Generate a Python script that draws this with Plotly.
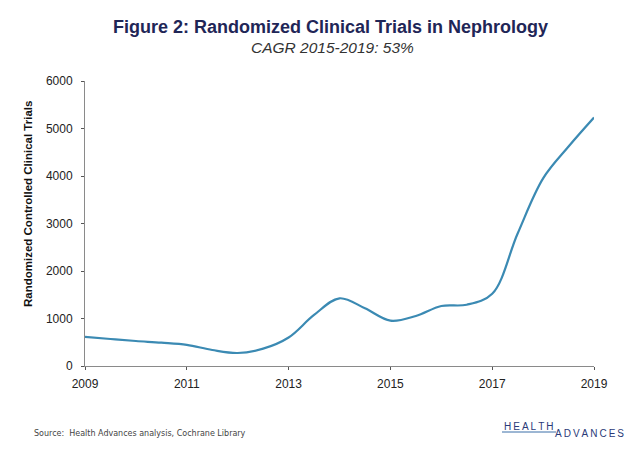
import plotly.graph_objects as go

years = [2009, 2009.5, 2010, 2010.5, 2011, 2011.5, 2012, 2012.5, 2013, 2013.5,
         2014, 2014.5, 2015, 2015.5, 2016, 2016.5, 2017, 2017.5, 2018, 2018.5, 2019]
trials = [615, 568, 526, 491, 445, 337, 274, 365, 600, 1074,
          1425, 1214, 954, 1053, 1263, 1290, 1520, 2790, 3950, 4620, 5230]

x_ticks = [2009, 2011, 2013, 2015, 2017, 2019]
y_ticks = [0, 1000, 2000, 3000, 4000, 5000, 6000]

title_text = "Figure 2: Randomized Clinical Trials in Nephrology"
subtitle_text = "CAGR 2015-2019: 53%"
y_title = "Randomized Controlled Clinical Trials"
source_text = "Source:  Health Advances analysis, Cochrane Library"
logo_top = "H\u2009E\u2009A\u2009L\u2009T\u2009H"
logo_bottom = "A\u2009D\u2009V\u2009A\u2009N\u2009C\u2009E\u2009S"

W, H = 640, 449
ML, MR, MT, MB = 85, 46, 81, 83
PW, PH = W - ML - MR, H - MT - MB


def px(xp):
    return (xp - ML) / PW


def py(yp):
    return (H - MB - yp) / PH


fig = go.Figure()
fig.add_trace(go.Scatter(
    x=years, y=trials, mode="lines",
    line=dict(color="#3b8ab3", width=2.2, shape="spline", smoothing=1.0),
    hoverinfo="x+y", showlegend=False,
))

FAM = "Liberation Sans, Arial, sans-serif"
axis_font = dict(family=FAM, size=12, color="#222222")

common = dict(showgrid=False, zeroline=False, automargin=False)

fig.update_layout(
    width=W, height=H,
    margin=dict(l=ML, r=MR, t=MT, b=MB),
    paper_bgcolor="white", plot_bgcolor="white",
    font=axis_font,
    xaxis=dict(
        range=[2009, 2019], tickvals=x_ticks, ticktext=[str(v) for v in x_ticks],
        showline=True, linecolor="#8a8a8a", linewidth=1,
        ticks="outside", ticklen=3, tickcolor="#555555", tickfont=axis_font,
        ticklabelstandoff=4, **common,
    ),
    yaxis=dict(
        range=[0, 6000], tickvals=y_ticks, ticktext=[str(v) for v in y_ticks],
        showline=True, linecolor="#8a8a8a", linewidth=1,
        ticks="outside", ticklen=3, tickcolor="#555555", tickfont=axis_font,
        ticklabelstandoff=6, **common,
    ),
    xaxis2=dict(
        overlaying="x", matches="x", range=[2009, 2019], tickvals=x_ticks,
        showticklabels=False, showline=False, ticks="inside", ticklen=3,
        tickcolor="#555555", side="bottom", **common,
    ),
    yaxis2=dict(
        overlaying="y", matches="y", range=[0, 6000], tickvals=y_ticks,
        showticklabels=False, showline=False, ticks="inside", ticklen=3,
        tickcolor="#555555", side="left", **common,
    ),
)

fig.add_annotation(
    text="<b>" + title_text + "</b>", xref="paper", yref="paper",
    x=px(330), y=py(27), xanchor="center", yanchor="middle", showarrow=False,
    font=dict(family=FAM, size=18, color="#1f2657"),
)
fig.add_annotation(
    text="<i>" + subtitle_text + "</i>", xref="paper", yref="paper",
    x=px(332), y=py(47), xanchor="center", yanchor="middle", showarrow=False,
    font=dict(family=FAM, size=15.5, color="#333333"),
)
fig.add_annotation(
    text="<b>" + y_title + "</b>", xref="paper", yref="paper",
    x=px(28), y=py(204), xanchor="center", yanchor="middle", showarrow=False,
    textangle=-90,
    font=dict(family=FAM, size=11.5, color="#111111"),
)
fig.add_annotation(
    text=source_text, xref="paper", yref="paper",
    x=px(32), y=py(433), xanchor="left", yanchor="middle", showarrow=False,
    font=dict(family="DejaVu Sans, sans-serif", size=8, color="#444444"),
)
fig.add_annotation(
    text=logo_top, xref="paper", yref="paper",
    x=px(502), y=py(426), xanchor="left", yanchor="middle", showarrow=False,
    font=dict(family=FAM, size=10, color="#2a3a78"),
)
fig.add_annotation(
    text=logo_bottom, xref="paper", yref="paper",
    x=px(553), y=py(433), xanchor="left", yanchor="middle", showarrow=False,
    font=dict(family=FAM, size=10, color="#2a3a78"),
)
fig.add_shape(
    type="line", xref="paper", yref="paper",
    x0=px(502), x1=px(556), y0=py(432), y1=py(432),
    line=dict(color="#3b6fa8", width=1),
)

fig.write_html(
    "out.html",
    config={"displayModeBar": False},
    post_script="document.body.style.margin='0';document.body.style.padding='0';",
)
